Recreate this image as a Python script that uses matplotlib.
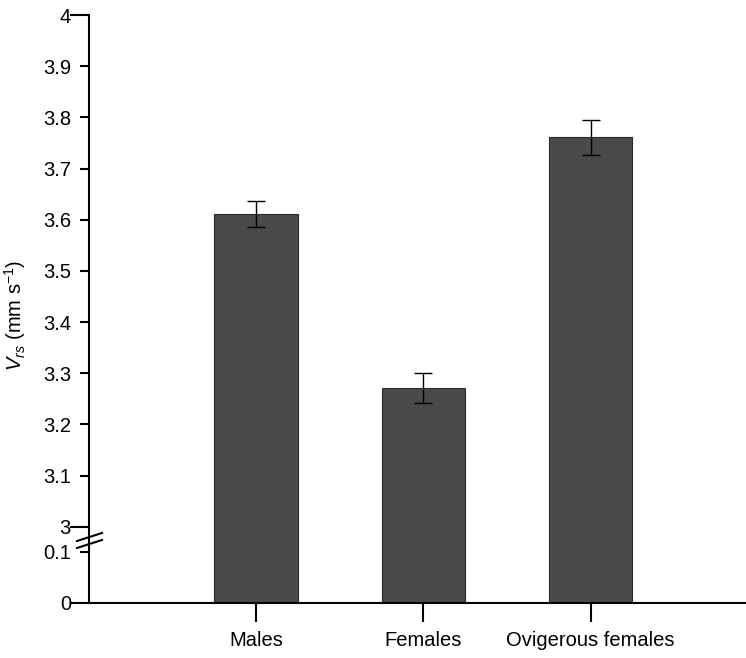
import numpy as np
import matplotlib
matplotlib.use('Agg')
import matplotlib.pyplot as plt

plt.rcParams['font.family'] = 'Liberation Sans'
plt.rcParams['mathtext.fontset'] = 'custom'
plt.rcParams['mathtext.rm'] = 'Liberation Sans'
plt.rcParams['mathtext.it'] = 'Liberation Sans:italic'

groups = ['Males', 'Females', 'Ovigerous females']
vrs = [3.611, 3.271, 3.761]
err = [0.025, 0.029, 0.034]
yticks = [0, 0.1, 3, 3.1, 3.2, 3.3, 3.4, 3.5, 3.6, 3.7, 3.8, 3.9, 4]
ylabels = ['0', '0.1', '3', '3.1', '3.2', '3.3', '3.4', '3.5', '3.6', '3.7', '3.8', '3.9', '4']

# broken axis: 0-0.1 and 3-4 on the same scale, small gap in between
gap = 0.049
def fwd(v):
    v = np.asarray(v, dtype=float)
    return np.where(v <= 0.1, v,
                    np.where(v < 3, 0.1 + (v - 0.1) / 2.9 * gap, v - 2.9 + gap))
def inv(u):
    u = np.asarray(u, dtype=float)
    return np.where(u <= 0.1, u,
                    np.where(u < 0.1 + gap, 0.1 + (u - 0.1) / gap * 2.9, u + 2.9 - gap))

fs = 14.5
fig = plt.figure(figsize=(7.46, 6.58), dpi=100)
ax = fig.add_axes([0.1193, 0.0836, 0.8807, 0.8936])
ax.set_yscale('function', functions=(fwd, inv))

x = np.arange(1, len(groups) + 1)
ax.bar(x, vrs, width=0.5, color='#4a4a4a', edgecolor='#2a2a2a', linewidth=0.8, zorder=2)
ax.errorbar(x, vrs, yerr=err, fmt='none', ecolor='black', elinewidth=1,
            capsize=6.8, capthick=1, zorder=3)

ax.set_xlim(0, 3.93)
ax.set_ylim(0, 4)
ax.set_xticks(x)
ax.set_xticklabels(groups, fontsize=fs)
ax.set_yticks(yticks)
ax.set_yticklabels(ylabels, fontsize=fs)
ax.yaxis.set_minor_locator(matplotlib.ticker.NullLocator())

for s in ['top', 'right']:
    ax.spines[s].set_visible(False)
for s in ['left', 'bottom']:
    ax.spines[s].set_linewidth(1.5)

ax.tick_params(axis='x', direction='out', length=14, width=1.5, pad=6)
ax.tick_params(axis='y', direction='out', length=6.5, width=1.5, pad=6.5)
for v, t in zip(yticks, ax.yaxis.get_major_ticks()):
    if v in (0, 3, 4):
        t.tick1line.set_markersize(13.7)

ax.set_ylabel(r'$V_{rs}$ (mm s$^{-1}$)', fontsize=fs)
ax.yaxis.set_label_coords(-0.093, 0.49)

# break marks on the y axis
for dy in (0, 7):
    y0 = 658 - 547 + dy
    fig.add_artist(plt.Line2D([77 / 746, 102 / 746], [(y0 - 1) / 658, (y0 + 7) / 658],
                              color='black', lw=1.5, transform=fig.transFigure))

fig.savefig('out.png', dpi=100)
